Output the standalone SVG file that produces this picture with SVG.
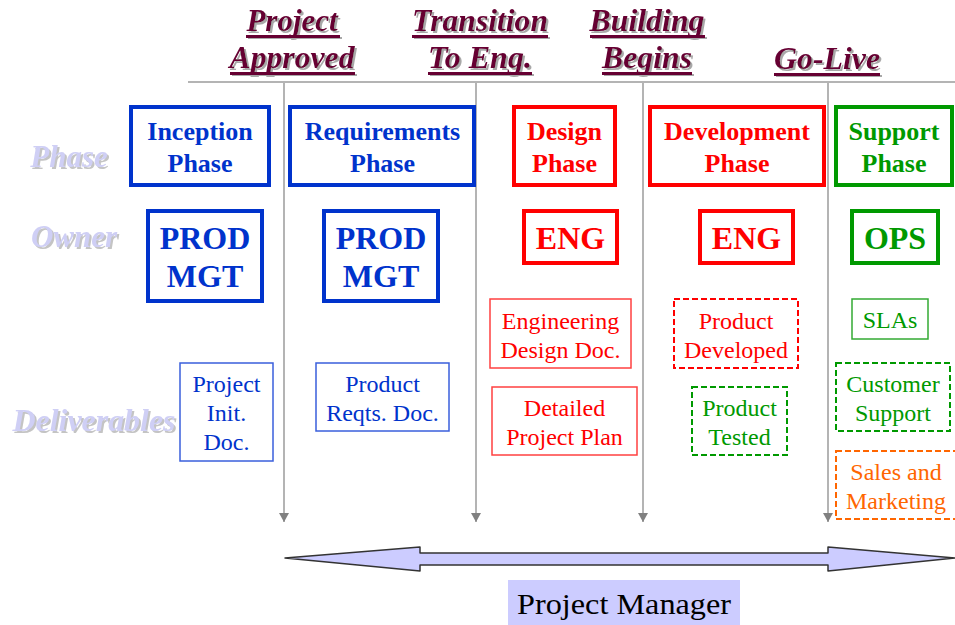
<svg xmlns="http://www.w3.org/2000/svg" width="955" height="625" viewBox="0 0 955 625">
<defs>
<style>
.hdr{font-family:"Liberation Serif","Times New Roman",serif;font-weight:bold;font-style:italic;font-size:31px;text-anchor:middle;fill:#660033;filter:url(#shH)}
.row{font-family:"Liberation Serif","Times New Roman",serif;font-weight:bold;font-style:italic;font-size:31px;text-anchor:middle;fill:#cfcff5;filter:url(#shR)}
.ul{fill:#660033;filter:url(#shH)}
.ph{font-family:"Liberation Serif","Times New Roman",serif;font-weight:bold;font-size:26px;text-anchor:middle}
.own{font-family:"Liberation Serif","Times New Roman",serif;font-weight:bold;font-size:32px;text-anchor:middle}
.dl{font-family:"Liberation Serif","Times New Roman",serif;font-size:24px;text-anchor:middle}
.thick{fill:#fff;stroke-width:4}
.thin{fill:#fff;stroke-width:1.5}
.dash{fill:#fff;stroke-width:2;stroke-dasharray:6,3}
.blue{stroke:#0033cc}
.red{stroke:#ff0000}
.green{stroke:#009900}
.orange{stroke:#ff6600}
.tb{fill:#0033cc}
.tr{fill:#ff0000}
.tg{fill:#009900}
.to{fill:#ff6600}
.vl{stroke:#b4b4b4;stroke-width:2;fill:none}
</style>
<filter id="shH" x="-10%" y="-20%" width="120%" height="150%">
<feOffset in="SourceAlpha" dx="2" dy="2" result="o"/>
<feFlood flood-color="#a8a8a8"/>
<feComposite in2="o" operator="in" result="s"/>
<feMerge><feMergeNode in="s"/><feMergeNode in="SourceGraphic"/></feMerge>
</filter>
<filter id="shR" x="-10%" y="-20%" width="120%" height="150%">
<feOffset in="SourceAlpha" dx="2" dy="2" result="o"/>
<feFlood flood-color="#c4c4c4"/>
<feComposite in2="o" operator="in" result="s"/>
<feMerge><feMergeNode in="s"/><feMergeNode in="SourceGraphic"/></feMerge>
</filter>
<marker id="ah" markerWidth="10" markerHeight="10" refX="9" refY="5" orient="auto" markerUnits="userSpaceOnUse" viewBox="0 0 10 10">
<path d="M0,0 L9,5 L0,10 Z" fill="#808080"/>
</marker>
</defs>

<g id="milestones">
<text class="hdr" x="292" y="31">Project</text>
<rect class="ul" x="246" y="35" width="94" height="3"/>
<text class="hdr" x="292" y="68" textLength="125" lengthAdjust="spacingAndGlyphs">Approved</text>
<rect class="ul" x="230" y="72" width="125" height="3"/>

<text class="hdr" x="480" y="31" textLength="136" lengthAdjust="spacingAndGlyphs">Transition</text>
<rect class="ul" x="412" y="35" width="136" height="3"/>
<text class="hdr" x="480" y="68" textLength="104" lengthAdjust="spacingAndGlyphs">To Eng.</text>
<rect class="ul" x="428" y="72" width="104" height="3"/>

<text class="hdr" x="647" y="31" textLength="115" lengthAdjust="spacingAndGlyphs">Building</text>
<rect class="ul" x="590" y="35" width="115" height="3"/>
<text class="hdr" x="647" y="68" textLength="90" lengthAdjust="spacingAndGlyphs">Begins</text>
<rect class="ul" x="602" y="72" width="90" height="3"/>

<text class="hdr" x="827" y="69" textLength="106" lengthAdjust="spacingAndGlyphs">Go-Live</text>
<rect class="ul" x="774" y="73" width="106" height="3"/>
</g>

<g id="row-labels">
<text class="row" x="69" y="167">Phase</text>
<text class="row" x="74" y="247">Owner</text>
<text class="row" x="94" y="431" textLength="163" lengthAdjust="spacingAndGlyphs">Deliverables</text>
</g>

<g id="connectors">
<line class="vl" x1="188" y1="82" x2="955" y2="82"/>
<line class="vl" x1="284" y1="82" x2="284" y2="522" marker-end="url(#ah)"/>
<line class="vl" x1="476" y1="82" x2="476" y2="522" marker-end="url(#ah)"/>
<line class="vl" x1="643" y1="82" x2="643" y2="522" marker-end="url(#ah)"/>
<line class="vl" x1="828" y1="82" x2="828" y2="522" marker-end="url(#ah)"/>
</g>

<g id="inception-phase">
<rect class="thick blue" x="131" y="107" width="138" height="78"/>
<text class="ph tb" x="200" y="140">Inception</text>
<text class="ph tb" x="200" y="172">Phase</text>
</g>
<g id="requirements-phase">
<rect class="thick blue" x="290" y="107" width="184" height="78"/>
<text class="ph tb" x="382.5" y="140">Requirements</text>
<text class="ph tb" x="382.5" y="172">Phase</text>
</g>
<g id="design-phase">
<rect class="thick red" x="514" y="107" width="101" height="78"/>
<text class="ph tr" x="564.5" y="140">Design</text>
<text class="ph tr" x="564.5" y="172">Phase</text>
</g>
<g id="development-phase">
<rect class="thick red" x="650" y="107" width="174" height="78"/>
<text class="ph tr" x="737" y="140">Development</text>
<text class="ph tr" x="737" y="172">Phase</text>
</g>
<g id="support-phase">
<rect class="thick green" x="836" y="107" width="116" height="78"/>
<text class="ph tg" x="894" y="140">Support</text>
<text class="ph tg" x="894" y="172">Phase</text>
</g>

<g id="owner-prodmgt-1">
<rect class="thick blue" x="148" y="211" width="114" height="90"/>
<text class="own tb" x="205" y="249">PROD</text>
<text class="own tb" x="205" y="287">MGT</text>
</g>
<g id="owner-prodmgt-2">
<rect class="thick blue" x="324" y="211" width="114" height="90"/>
<text class="own tb" x="381" y="249">PROD</text>
<text class="own tb" x="381" y="287">MGT</text>
</g>
<g id="owner-eng-1">
<rect class="thick red" x="524" y="211" width="93" height="52"/>
<text class="own tr" x="570.5" y="249">ENG</text>
</g>
<g id="owner-eng-2">
<rect class="thick red" x="700" y="211" width="93" height="52"/>
<text class="own tr" x="746.5" y="249">ENG</text>
</g>
<g id="owner-ops">
<rect class="thick green" x="852" y="211" width="86" height="52"/>
<text class="own tg" x="895" y="249">OPS</text>
</g>

<g id="project-init-doc">
<rect class="thin" stroke="#3a5fdc" x="180" y="363" width="93" height="98"/>
<text class="dl tb" x="226.5" y="392">Project</text>
<text class="dl tb" x="226.5" y="421">Init.</text>
<text class="dl tb" x="226.5" y="450">Doc.</text>
</g>
<g id="product-reqts-doc">
<rect class="thin" stroke="#3a5fdc" x="316" y="363" width="133" height="68"/>
<text class="dl tb" x="382.5" y="392">Product</text>
<text class="dl tb" x="382.5" y="421">Reqts. Doc.</text>
</g>
<g id="engineering-design-doc">
<rect class="thin" stroke="#ff4040" x="490" y="299" width="141" height="69"/>
<text class="dl tr" x="560.5" y="329">Engineering</text>
<text class="dl tr" x="560.5" y="358">Design Doc.</text>
</g>
<g id="detailed-project-plan">
<rect class="thin" stroke="#ff4040" x="492" y="387" width="145" height="68"/>
<text class="dl tr" x="564.5" y="416">Detailed</text>
<text class="dl tr" x="564.5" y="445">Project Plan</text>
</g>
<g id="product-developed">
<rect class="dash red" x="674" y="299" width="124" height="69"/>
<text class="dl tr" x="736" y="329">Product</text>
<text class="dl tr" x="736" y="358">Developed</text>
</g>
<g id="product-tested">
<rect class="dash green" x="692" y="387" width="95" height="68"/>
<text class="dl tg" x="739.5" y="416">Product</text>
<text class="dl tg" x="739.5" y="445">Tested</text>
</g>
<g id="slas">
<rect class="thin" stroke="#33aa33" x="852" y="299" width="76" height="40"/>
<text class="dl tg" x="890" y="328">SLAs</text>
</g>
<g id="customer-support">
<rect class="dash green" x="836" y="363" width="114" height="68"/>
<text class="dl tg" x="893" y="392">Customer</text>
<text class="dl tg" x="893" y="421">Support</text>
</g>
<g id="sales-and-marketing">
<rect class="dash orange" x="836" y="451" width="122" height="68"/>
<text class="dl to" x="896" y="480">Sales and</text>
<text class="dl to" x="896" y="509">Marketing</text>
</g>

<g id="project-manager">
<path d="M285,558 L420,547 L420,553 L828,553 L828,547 L955,558 L828,571 L828,565 L420,565 L420,571 Z" fill="#ccccff" stroke="#333" stroke-width="1.5" stroke-linejoin="round"/>
<rect x="508" y="580" width="232" height="45" fill="#ccccff"/>
<text x="624" y="614" font-family="Liberation Serif, Times New Roman, serif" font-size="30" text-anchor="middle" fill="#000" textLength="214" lengthAdjust="spacingAndGlyphs">Project Manager</text>
</g>
</svg>
